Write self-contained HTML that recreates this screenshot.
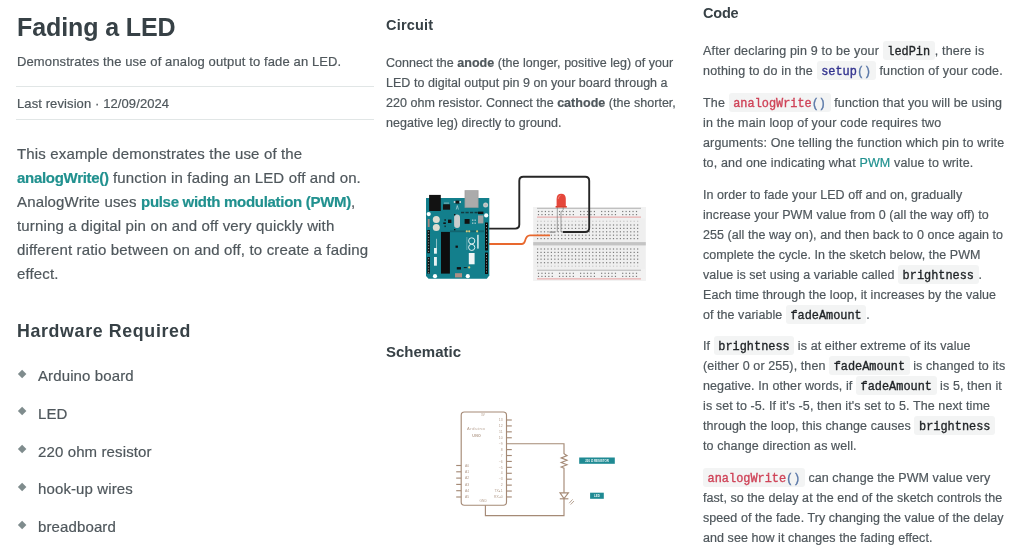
<!DOCTYPE html>
<html><head><meta charset="utf-8"><title>Fading a LED</title>
<style>
html,body{margin:0;padding:0;background:#fff;}
body{width:1024px;height:560px;position:relative;overflow:hidden;font-family:"Liberation Sans",sans-serif;}
.t{position:absolute;white-space:nowrap;will-change:transform;-webkit-text-stroke:0.2px currentColor;}
.t b{font-weight:bold;}
.lk{color:#21918f;letter-spacing:-0.3px;}
.tl{color:#21918f;}
.hr{position:absolute;left:16px;width:358px;height:1px;background:#e1e6e6;}
.dm{position:absolute;width:6.3px;height:6.3px;background:#7f8c8d;transform:rotate(45deg);}
code{font-family:"Liberation Mono",monospace;font-size:11.9px;line-height:1;letter-spacing:0;background:#f3f4f4;color:#1f2326;
border-radius:3px;padding:4.1px 4.6px 1.2px 4.6px;-webkit-text-stroke:0.35px currentColor;}
.nv{color:#33338f;}
.pr{color:#5a78a8;}
.rd{color:#cf4358;}
svg{position:absolute;}
</style></head><body>
<div class="t" style="left:16.5px;top:11.04px;font-size:25px;line-height:32px;letter-spacing:-0.1px;color:#374146;font-weight:bold;-webkit-text-stroke:0;">Fading a LED</div>
<div class="t" style="left:16.5px;top:51.70px;font-size:13px;line-height:20px;letter-spacing:0.12px;color:#4f575c;font-weight:normal;">Demonstrates the use of analog output to fade an LED.</div>
<div class="hr" style="top:86px"></div>
<div class="t" style="left:16.5px;top:93.50px;font-size:13px;line-height:20px;letter-spacing:0.1px;color:#4f575c;font-weight:normal;">Last revision &middot; 12/09/2024</div>
<div class="hr" style="top:119px"></div>
<div class="t" style="left:16.5px;top:141.50px;font-size:15px;line-height:24px;letter-spacing:0.15px;color:#4f575c;font-weight:normal;">This example demonstrates the use of the<br><b class="lk">analogWrite()</b> function in fading an LED off and on.<br>AnalogWrite uses <b class="lk">pulse width modulation (PWM)</b>,<br>turning a digital pin on and off very quickly with<br>different ratio between on and off, to create a fading<br>effect.</div>
<div class="t" style="left:16.5px;top:319.43px;font-size:17.8px;line-height:24px;letter-spacing:0.65px;color:#374146;font-weight:bold;-webkit-text-stroke:0;">Hardware Required</div>
<div class="t" style="left:38px;top:366.00px;font-size:15px;line-height:20px;letter-spacing:0.12px;color:#4f575c;font-weight:normal;">Arduino board</div>
<div class="dm" style="left:18.5px;top:370.60px"></div>
<div class="t" style="left:38px;top:403.80px;font-size:15px;line-height:20px;letter-spacing:0.12px;color:#4f575c;font-weight:normal;">LED</div>
<div class="dm" style="left:18.5px;top:408.40px"></div>
<div class="t" style="left:38px;top:441.60px;font-size:15px;line-height:20px;letter-spacing:0.12px;color:#4f575c;font-weight:normal;">220 ohm resistor</div>
<div class="dm" style="left:18.5px;top:446.20px"></div>
<div class="t" style="left:38px;top:479.40px;font-size:15px;line-height:20px;letter-spacing:0.12px;color:#4f575c;font-weight:normal;">hook-up wires</div>
<div class="dm" style="left:18.5px;top:484.00px"></div>
<div class="t" style="left:38px;top:517.20px;font-size:15px;line-height:20px;letter-spacing:0.12px;color:#4f575c;font-weight:normal;">breadboard</div>
<div class="dm" style="left:18.5px;top:521.80px"></div>
<div class="t" style="left:386px;top:15.48px;font-size:14.5px;line-height:20px;letter-spacing:0.2px;color:#374146;font-weight:bold;-webkit-text-stroke:0;">Circuit</div>
<div class="t" style="left:386px;top:52.97px;font-size:12.5px;line-height:20px;letter-spacing:0.03px;color:#4f575c;font-weight:normal;">Connect the <b>anode</b> (the longer, positive leg) of your<br>LED to digital output pin 9 on your board through a<br>220 ohm resistor. Connect the <b>cathode</b> (the shorter,<br>negative leg) directly to ground.</div>
<div class="t" style="left:386px;top:342.10px;font-size:15px;line-height:20px;letter-spacing:0.0px;color:#374146;font-weight:bold;-webkit-text-stroke:0;">Schematic</div>
<div class="t" style="left:703.4px;top:3.38px;font-size:14.5px;line-height:20px;letter-spacing:-0.2px;color:#374146;font-weight:bold;-webkit-text-stroke:0;">Code</div>
<div class="t" style="left:703.4px;top:41.17px;font-size:12.5px;line-height:20px;letter-spacing:0.18px;color:#4f575c;font-weight:normal;">After declaring pin 9 to be your <code class="">ledPin</code>, there is<br>nothing to do in the <code class=""><span class=nv>setup</span><span class=pr>()</span></code> function of your code.</div>
<div class="t" style="left:703.4px;top:93.07px;font-size:12.5px;line-height:20px;letter-spacing:0.15px;color:#4f575c;font-weight:normal;">The <code class=""><span class=rd>analogWrite</span><span class=pr>()</span></code> function that you will be using<br>in the main loop of your code requires two<br>arguments: One telling the function which pin to write<br>to, and one indicating what <span class="tl">PWM</span> value to write.</div>
<div class="t" style="left:703.4px;top:184.97px;font-size:12.5px;line-height:20px;letter-spacing:0.05px;color:#4f575c;font-weight:normal;">In order to fade your LED off and on, gradually<br>increase your PWM value from 0 (all the way off) to<br>255 (all the way on), and then back to 0 once again to<br>complete the cycle. In the sketch below, the PWM<br>value is set using a variable called <code class="">brightness</code>.<br>Each time through the loop, it increases by the value<br>of the variable <code class="">fadeAmount</code>.</div>
<div class="t" style="left:703.4px;top:336.27px;font-size:12.5px;line-height:20px;letter-spacing:0.1px;color:#4f575c;font-weight:normal;">If <code class="">brightness</code> is at either extreme of its value<br>(either 0 or 255), then <code class="">fadeAmount</code> is changed to its<br>negative. In other words, if <code class="">fadeAmount</code> is 5, then it<br>is set to -5. If it's -5, then it's set to 5. The next time<br>through the loop, this change causes <code class="">brightness</code><br>to change direction as well.</div>
<div class="t" style="left:703.4px;top:467.77px;font-size:12.5px;line-height:20px;letter-spacing:0.06px;color:#4f575c;font-weight:normal;"><code class=""><span class=rd>analogWrite</span><span class=pr>()</span></code> can change the PWM value very<br>fast, so the delay at the end of the sketch controls the<br>speed of the fade. Try changing the value of the delay<br>and see how it changes the fading effect.</div>

<svg style="left:0;top:0" width="1024" height="560" viewBox="0 0 1024 560">
<rect x="533.2" y="207" width="112.6" height="73.8" fill="#efefef"/>
<rect x="533.2" y="207" width="112.6" height="11.5" fill="#f2f2f2"/>
<rect x="533.2" y="269" width="112.6" height="11.8" fill="#f2f2f2"/>
<line x1="537" x2="641" y1="208.3" y2="208.3" stroke="#9a9a9a" stroke-width="0.7"/>
<line x1="537" x2="641" y1="270.2" y2="270.2" stroke="#9a9a9a" stroke-width="0.7"/>
<line x1="537" x2="641" y1="217.1" y2="217.1" stroke="#e07a7a" stroke-width="0.7"/>
<line x1="537" x2="641" y1="278.9" y2="278.9" stroke="#e07a7a" stroke-width="0.7"/>
<rect x="533.2" y="242.1" width="112.6" height="3.3" fill="#c4c4c4"/>
<g fill="#7c7c7c"><rect x="537.00" y="224.40" width="1.2" height="1.2"/><rect x="540.45" y="224.40" width="1.2" height="1.2"/><rect x="543.90" y="224.40" width="1.2" height="1.2"/><rect x="547.35" y="224.40" width="1.2" height="1.2"/><rect x="550.80" y="224.40" width="1.2" height="1.2"/><rect x="554.25" y="224.40" width="1.2" height="1.2"/><rect x="557.70" y="224.40" width="1.2" height="1.2"/><rect x="561.15" y="224.40" width="1.2" height="1.2"/><rect x="564.60" y="224.40" width="1.2" height="1.2"/><rect x="568.05" y="224.40" width="1.2" height="1.2"/><rect x="571.50" y="224.40" width="1.2" height="1.2"/><rect x="574.95" y="224.40" width="1.2" height="1.2"/><rect x="578.40" y="224.40" width="1.2" height="1.2"/><rect x="581.85" y="224.40" width="1.2" height="1.2"/><rect x="585.30" y="224.40" width="1.2" height="1.2"/><rect x="588.75" y="224.40" width="1.2" height="1.2"/><rect x="592.20" y="224.40" width="1.2" height="1.2"/><rect x="595.65" y="224.40" width="1.2" height="1.2"/><rect x="599.10" y="224.40" width="1.2" height="1.2"/><rect x="602.55" y="224.40" width="1.2" height="1.2"/><rect x="606.00" y="224.40" width="1.2" height="1.2"/><rect x="609.45" y="224.40" width="1.2" height="1.2"/><rect x="612.90" y="224.40" width="1.2" height="1.2"/><rect x="616.35" y="224.40" width="1.2" height="1.2"/><rect x="619.80" y="224.40" width="1.2" height="1.2"/><rect x="623.25" y="224.40" width="1.2" height="1.2"/><rect x="626.70" y="224.40" width="1.2" height="1.2"/><rect x="630.15" y="224.40" width="1.2" height="1.2"/><rect x="633.60" y="224.40" width="1.2" height="1.2"/><rect x="637.05" y="224.40" width="1.2" height="1.2"/><rect x="537.00" y="227.80" width="1.2" height="1.2"/><rect x="540.45" y="227.80" width="1.2" height="1.2"/><rect x="543.90" y="227.80" width="1.2" height="1.2"/><rect x="547.35" y="227.80" width="1.2" height="1.2"/><rect x="550.80" y="227.80" width="1.2" height="1.2"/><rect x="554.25" y="227.80" width="1.2" height="1.2"/><rect x="557.70" y="227.80" width="1.2" height="1.2"/><rect x="561.15" y="227.80" width="1.2" height="1.2"/><rect x="564.60" y="227.80" width="1.2" height="1.2"/><rect x="568.05" y="227.80" width="1.2" height="1.2"/><rect x="571.50" y="227.80" width="1.2" height="1.2"/><rect x="574.95" y="227.80" width="1.2" height="1.2"/><rect x="578.40" y="227.80" width="1.2" height="1.2"/><rect x="581.85" y="227.80" width="1.2" height="1.2"/><rect x="585.30" y="227.80" width="1.2" height="1.2"/><rect x="588.75" y="227.80" width="1.2" height="1.2"/><rect x="592.20" y="227.80" width="1.2" height="1.2"/><rect x="595.65" y="227.80" width="1.2" height="1.2"/><rect x="599.10" y="227.80" width="1.2" height="1.2"/><rect x="602.55" y="227.80" width="1.2" height="1.2"/><rect x="606.00" y="227.80" width="1.2" height="1.2"/><rect x="609.45" y="227.80" width="1.2" height="1.2"/><rect x="612.90" y="227.80" width="1.2" height="1.2"/><rect x="616.35" y="227.80" width="1.2" height="1.2"/><rect x="619.80" y="227.80" width="1.2" height="1.2"/><rect x="623.25" y="227.80" width="1.2" height="1.2"/><rect x="626.70" y="227.80" width="1.2" height="1.2"/><rect x="630.15" y="227.80" width="1.2" height="1.2"/><rect x="633.60" y="227.80" width="1.2" height="1.2"/><rect x="637.05" y="227.80" width="1.2" height="1.2"/><rect x="537.00" y="231.20" width="1.2" height="1.2"/><rect x="540.45" y="231.20" width="1.2" height="1.2"/><rect x="543.90" y="231.20" width="1.2" height="1.2"/><rect x="547.35" y="231.20" width="1.2" height="1.2"/><rect x="550.80" y="231.20" width="1.2" height="1.2"/><rect x="554.25" y="231.20" width="1.2" height="1.2"/><rect x="557.70" y="231.20" width="1.2" height="1.2"/><rect x="561.15" y="231.20" width="1.2" height="1.2"/><rect x="564.60" y="231.20" width="1.2" height="1.2"/><rect x="568.05" y="231.20" width="1.2" height="1.2"/><rect x="571.50" y="231.20" width="1.2" height="1.2"/><rect x="574.95" y="231.20" width="1.2" height="1.2"/><rect x="578.40" y="231.20" width="1.2" height="1.2"/><rect x="581.85" y="231.20" width="1.2" height="1.2"/><rect x="585.30" y="231.20" width="1.2" height="1.2"/><rect x="588.75" y="231.20" width="1.2" height="1.2"/><rect x="592.20" y="231.20" width="1.2" height="1.2"/><rect x="595.65" y="231.20" width="1.2" height="1.2"/><rect x="599.10" y="231.20" width="1.2" height="1.2"/><rect x="602.55" y="231.20" width="1.2" height="1.2"/><rect x="606.00" y="231.20" width="1.2" height="1.2"/><rect x="609.45" y="231.20" width="1.2" height="1.2"/><rect x="612.90" y="231.20" width="1.2" height="1.2"/><rect x="616.35" y="231.20" width="1.2" height="1.2"/><rect x="619.80" y="231.20" width="1.2" height="1.2"/><rect x="623.25" y="231.20" width="1.2" height="1.2"/><rect x="626.70" y="231.20" width="1.2" height="1.2"/><rect x="630.15" y="231.20" width="1.2" height="1.2"/><rect x="633.60" y="231.20" width="1.2" height="1.2"/><rect x="637.05" y="231.20" width="1.2" height="1.2"/><rect x="537.00" y="234.60" width="1.2" height="1.2"/><rect x="540.45" y="234.60" width="1.2" height="1.2"/><rect x="543.90" y="234.60" width="1.2" height="1.2"/><rect x="547.35" y="234.60" width="1.2" height="1.2"/><rect x="550.80" y="234.60" width="1.2" height="1.2"/><rect x="554.25" y="234.60" width="1.2" height="1.2"/><rect x="557.70" y="234.60" width="1.2" height="1.2"/><rect x="561.15" y="234.60" width="1.2" height="1.2"/><rect x="564.60" y="234.60" width="1.2" height="1.2"/><rect x="568.05" y="234.60" width="1.2" height="1.2"/><rect x="571.50" y="234.60" width="1.2" height="1.2"/><rect x="574.95" y="234.60" width="1.2" height="1.2"/><rect x="578.40" y="234.60" width="1.2" height="1.2"/><rect x="581.85" y="234.60" width="1.2" height="1.2"/><rect x="585.30" y="234.60" width="1.2" height="1.2"/><rect x="588.75" y="234.60" width="1.2" height="1.2"/><rect x="592.20" y="234.60" width="1.2" height="1.2"/><rect x="595.65" y="234.60" width="1.2" height="1.2"/><rect x="599.10" y="234.60" width="1.2" height="1.2"/><rect x="602.55" y="234.60" width="1.2" height="1.2"/><rect x="606.00" y="234.60" width="1.2" height="1.2"/><rect x="609.45" y="234.60" width="1.2" height="1.2"/><rect x="612.90" y="234.60" width="1.2" height="1.2"/><rect x="616.35" y="234.60" width="1.2" height="1.2"/><rect x="619.80" y="234.60" width="1.2" height="1.2"/><rect x="623.25" y="234.60" width="1.2" height="1.2"/><rect x="626.70" y="234.60" width="1.2" height="1.2"/><rect x="630.15" y="234.60" width="1.2" height="1.2"/><rect x="633.60" y="234.60" width="1.2" height="1.2"/><rect x="637.05" y="234.60" width="1.2" height="1.2"/><rect x="537.00" y="238.00" width="1.2" height="1.2"/><rect x="540.45" y="238.00" width="1.2" height="1.2"/><rect x="543.90" y="238.00" width="1.2" height="1.2"/><rect x="547.35" y="238.00" width="1.2" height="1.2"/><rect x="550.80" y="238.00" width="1.2" height="1.2"/><rect x="554.25" y="238.00" width="1.2" height="1.2"/><rect x="557.70" y="238.00" width="1.2" height="1.2"/><rect x="561.15" y="238.00" width="1.2" height="1.2"/><rect x="564.60" y="238.00" width="1.2" height="1.2"/><rect x="568.05" y="238.00" width="1.2" height="1.2"/><rect x="571.50" y="238.00" width="1.2" height="1.2"/><rect x="574.95" y="238.00" width="1.2" height="1.2"/><rect x="578.40" y="238.00" width="1.2" height="1.2"/><rect x="581.85" y="238.00" width="1.2" height="1.2"/><rect x="585.30" y="238.00" width="1.2" height="1.2"/><rect x="588.75" y="238.00" width="1.2" height="1.2"/><rect x="592.20" y="238.00" width="1.2" height="1.2"/><rect x="595.65" y="238.00" width="1.2" height="1.2"/><rect x="599.10" y="238.00" width="1.2" height="1.2"/><rect x="602.55" y="238.00" width="1.2" height="1.2"/><rect x="606.00" y="238.00" width="1.2" height="1.2"/><rect x="609.45" y="238.00" width="1.2" height="1.2"/><rect x="612.90" y="238.00" width="1.2" height="1.2"/><rect x="616.35" y="238.00" width="1.2" height="1.2"/><rect x="619.80" y="238.00" width="1.2" height="1.2"/><rect x="623.25" y="238.00" width="1.2" height="1.2"/><rect x="626.70" y="238.00" width="1.2" height="1.2"/><rect x="630.15" y="238.00" width="1.2" height="1.2"/><rect x="633.60" y="238.00" width="1.2" height="1.2"/><rect x="637.05" y="238.00" width="1.2" height="1.2"/><rect x="537.00" y="248.40" width="1.2" height="1.2"/><rect x="540.45" y="248.40" width="1.2" height="1.2"/><rect x="543.90" y="248.40" width="1.2" height="1.2"/><rect x="547.35" y="248.40" width="1.2" height="1.2"/><rect x="550.80" y="248.40" width="1.2" height="1.2"/><rect x="554.25" y="248.40" width="1.2" height="1.2"/><rect x="557.70" y="248.40" width="1.2" height="1.2"/><rect x="561.15" y="248.40" width="1.2" height="1.2"/><rect x="564.60" y="248.40" width="1.2" height="1.2"/><rect x="568.05" y="248.40" width="1.2" height="1.2"/><rect x="571.50" y="248.40" width="1.2" height="1.2"/><rect x="574.95" y="248.40" width="1.2" height="1.2"/><rect x="578.40" y="248.40" width="1.2" height="1.2"/><rect x="581.85" y="248.40" width="1.2" height="1.2"/><rect x="585.30" y="248.40" width="1.2" height="1.2"/><rect x="588.75" y="248.40" width="1.2" height="1.2"/><rect x="592.20" y="248.40" width="1.2" height="1.2"/><rect x="595.65" y="248.40" width="1.2" height="1.2"/><rect x="599.10" y="248.40" width="1.2" height="1.2"/><rect x="602.55" y="248.40" width="1.2" height="1.2"/><rect x="606.00" y="248.40" width="1.2" height="1.2"/><rect x="609.45" y="248.40" width="1.2" height="1.2"/><rect x="612.90" y="248.40" width="1.2" height="1.2"/><rect x="616.35" y="248.40" width="1.2" height="1.2"/><rect x="619.80" y="248.40" width="1.2" height="1.2"/><rect x="623.25" y="248.40" width="1.2" height="1.2"/><rect x="626.70" y="248.40" width="1.2" height="1.2"/><rect x="630.15" y="248.40" width="1.2" height="1.2"/><rect x="633.60" y="248.40" width="1.2" height="1.2"/><rect x="637.05" y="248.40" width="1.2" height="1.2"/><rect x="537.00" y="251.80" width="1.2" height="1.2"/><rect x="540.45" y="251.80" width="1.2" height="1.2"/><rect x="543.90" y="251.80" width="1.2" height="1.2"/><rect x="547.35" y="251.80" width="1.2" height="1.2"/><rect x="550.80" y="251.80" width="1.2" height="1.2"/><rect x="554.25" y="251.80" width="1.2" height="1.2"/><rect x="557.70" y="251.80" width="1.2" height="1.2"/><rect x="561.15" y="251.80" width="1.2" height="1.2"/><rect x="564.60" y="251.80" width="1.2" height="1.2"/><rect x="568.05" y="251.80" width="1.2" height="1.2"/><rect x="571.50" y="251.80" width="1.2" height="1.2"/><rect x="574.95" y="251.80" width="1.2" height="1.2"/><rect x="578.40" y="251.80" width="1.2" height="1.2"/><rect x="581.85" y="251.80" width="1.2" height="1.2"/><rect x="585.30" y="251.80" width="1.2" height="1.2"/><rect x="588.75" y="251.80" width="1.2" height="1.2"/><rect x="592.20" y="251.80" width="1.2" height="1.2"/><rect x="595.65" y="251.80" width="1.2" height="1.2"/><rect x="599.10" y="251.80" width="1.2" height="1.2"/><rect x="602.55" y="251.80" width="1.2" height="1.2"/><rect x="606.00" y="251.80" width="1.2" height="1.2"/><rect x="609.45" y="251.80" width="1.2" height="1.2"/><rect x="612.90" y="251.80" width="1.2" height="1.2"/><rect x="616.35" y="251.80" width="1.2" height="1.2"/><rect x="619.80" y="251.80" width="1.2" height="1.2"/><rect x="623.25" y="251.80" width="1.2" height="1.2"/><rect x="626.70" y="251.80" width="1.2" height="1.2"/><rect x="630.15" y="251.80" width="1.2" height="1.2"/><rect x="633.60" y="251.80" width="1.2" height="1.2"/><rect x="637.05" y="251.80" width="1.2" height="1.2"/><rect x="537.00" y="255.20" width="1.2" height="1.2"/><rect x="540.45" y="255.20" width="1.2" height="1.2"/><rect x="543.90" y="255.20" width="1.2" height="1.2"/><rect x="547.35" y="255.20" width="1.2" height="1.2"/><rect x="550.80" y="255.20" width="1.2" height="1.2"/><rect x="554.25" y="255.20" width="1.2" height="1.2"/><rect x="557.70" y="255.20" width="1.2" height="1.2"/><rect x="561.15" y="255.20" width="1.2" height="1.2"/><rect x="564.60" y="255.20" width="1.2" height="1.2"/><rect x="568.05" y="255.20" width="1.2" height="1.2"/><rect x="571.50" y="255.20" width="1.2" height="1.2"/><rect x="574.95" y="255.20" width="1.2" height="1.2"/><rect x="578.40" y="255.20" width="1.2" height="1.2"/><rect x="581.85" y="255.20" width="1.2" height="1.2"/><rect x="585.30" y="255.20" width="1.2" height="1.2"/><rect x="588.75" y="255.20" width="1.2" height="1.2"/><rect x="592.20" y="255.20" width="1.2" height="1.2"/><rect x="595.65" y="255.20" width="1.2" height="1.2"/><rect x="599.10" y="255.20" width="1.2" height="1.2"/><rect x="602.55" y="255.20" width="1.2" height="1.2"/><rect x="606.00" y="255.20" width="1.2" height="1.2"/><rect x="609.45" y="255.20" width="1.2" height="1.2"/><rect x="612.90" y="255.20" width="1.2" height="1.2"/><rect x="616.35" y="255.20" width="1.2" height="1.2"/><rect x="619.80" y="255.20" width="1.2" height="1.2"/><rect x="623.25" y="255.20" width="1.2" height="1.2"/><rect x="626.70" y="255.20" width="1.2" height="1.2"/><rect x="630.15" y="255.20" width="1.2" height="1.2"/><rect x="633.60" y="255.20" width="1.2" height="1.2"/><rect x="637.05" y="255.20" width="1.2" height="1.2"/><rect x="537.00" y="258.60" width="1.2" height="1.2"/><rect x="540.45" y="258.60" width="1.2" height="1.2"/><rect x="543.90" y="258.60" width="1.2" height="1.2"/><rect x="547.35" y="258.60" width="1.2" height="1.2"/><rect x="550.80" y="258.60" width="1.2" height="1.2"/><rect x="554.25" y="258.60" width="1.2" height="1.2"/><rect x="557.70" y="258.60" width="1.2" height="1.2"/><rect x="561.15" y="258.60" width="1.2" height="1.2"/><rect x="564.60" y="258.60" width="1.2" height="1.2"/><rect x="568.05" y="258.60" width="1.2" height="1.2"/><rect x="571.50" y="258.60" width="1.2" height="1.2"/><rect x="574.95" y="258.60" width="1.2" height="1.2"/><rect x="578.40" y="258.60" width="1.2" height="1.2"/><rect x="581.85" y="258.60" width="1.2" height="1.2"/><rect x="585.30" y="258.60" width="1.2" height="1.2"/><rect x="588.75" y="258.60" width="1.2" height="1.2"/><rect x="592.20" y="258.60" width="1.2" height="1.2"/><rect x="595.65" y="258.60" width="1.2" height="1.2"/><rect x="599.10" y="258.60" width="1.2" height="1.2"/><rect x="602.55" y="258.60" width="1.2" height="1.2"/><rect x="606.00" y="258.60" width="1.2" height="1.2"/><rect x="609.45" y="258.60" width="1.2" height="1.2"/><rect x="612.90" y="258.60" width="1.2" height="1.2"/><rect x="616.35" y="258.60" width="1.2" height="1.2"/><rect x="619.80" y="258.60" width="1.2" height="1.2"/><rect x="623.25" y="258.60" width="1.2" height="1.2"/><rect x="626.70" y="258.60" width="1.2" height="1.2"/><rect x="630.15" y="258.60" width="1.2" height="1.2"/><rect x="633.60" y="258.60" width="1.2" height="1.2"/><rect x="637.05" y="258.60" width="1.2" height="1.2"/><rect x="537.00" y="262.10" width="1.2" height="1.2"/><rect x="540.45" y="262.10" width="1.2" height="1.2"/><rect x="543.90" y="262.10" width="1.2" height="1.2"/><rect x="547.35" y="262.10" width="1.2" height="1.2"/><rect x="550.80" y="262.10" width="1.2" height="1.2"/><rect x="554.25" y="262.10" width="1.2" height="1.2"/><rect x="557.70" y="262.10" width="1.2" height="1.2"/><rect x="561.15" y="262.10" width="1.2" height="1.2"/><rect x="564.60" y="262.10" width="1.2" height="1.2"/><rect x="568.05" y="262.10" width="1.2" height="1.2"/><rect x="571.50" y="262.10" width="1.2" height="1.2"/><rect x="574.95" y="262.10" width="1.2" height="1.2"/><rect x="578.40" y="262.10" width="1.2" height="1.2"/><rect x="581.85" y="262.10" width="1.2" height="1.2"/><rect x="585.30" y="262.10" width="1.2" height="1.2"/><rect x="588.75" y="262.10" width="1.2" height="1.2"/><rect x="592.20" y="262.10" width="1.2" height="1.2"/><rect x="595.65" y="262.10" width="1.2" height="1.2"/><rect x="599.10" y="262.10" width="1.2" height="1.2"/><rect x="602.55" y="262.10" width="1.2" height="1.2"/><rect x="606.00" y="262.10" width="1.2" height="1.2"/><rect x="609.45" y="262.10" width="1.2" height="1.2"/><rect x="612.90" y="262.10" width="1.2" height="1.2"/><rect x="616.35" y="262.10" width="1.2" height="1.2"/><rect x="619.80" y="262.10" width="1.2" height="1.2"/><rect x="623.25" y="262.10" width="1.2" height="1.2"/><rect x="626.70" y="262.10" width="1.2" height="1.2"/><rect x="630.15" y="262.10" width="1.2" height="1.2"/><rect x="633.60" y="262.10" width="1.2" height="1.2"/><rect x="637.05" y="262.10" width="1.2" height="1.2"/><rect x="537.90" y="210.90" width="1.2" height="1.2"/><rect x="541.35" y="210.90" width="1.2" height="1.2"/><rect x="544.80" y="210.90" width="1.2" height="1.2"/><rect x="548.25" y="210.90" width="1.2" height="1.2"/><rect x="551.70" y="210.90" width="1.2" height="1.2"/><rect x="558.95" y="210.90" width="1.2" height="1.2"/><rect x="562.40" y="210.90" width="1.2" height="1.2"/><rect x="565.85" y="210.90" width="1.2" height="1.2"/><rect x="569.30" y="210.90" width="1.2" height="1.2"/><rect x="572.75" y="210.90" width="1.2" height="1.2"/><rect x="580.00" y="210.90" width="1.2" height="1.2"/><rect x="583.45" y="210.90" width="1.2" height="1.2"/><rect x="586.90" y="210.90" width="1.2" height="1.2"/><rect x="590.35" y="210.90" width="1.2" height="1.2"/><rect x="593.80" y="210.90" width="1.2" height="1.2"/><rect x="601.05" y="210.90" width="1.2" height="1.2"/><rect x="604.50" y="210.90" width="1.2" height="1.2"/><rect x="607.95" y="210.90" width="1.2" height="1.2"/><rect x="611.40" y="210.90" width="1.2" height="1.2"/><rect x="614.85" y="210.90" width="1.2" height="1.2"/><rect x="622.10" y="210.90" width="1.2" height="1.2"/><rect x="625.55" y="210.90" width="1.2" height="1.2"/><rect x="629.00" y="210.90" width="1.2" height="1.2"/><rect x="632.45" y="210.90" width="1.2" height="1.2"/><rect x="635.90" y="210.90" width="1.2" height="1.2"/><rect x="537.90" y="214.00" width="1.2" height="1.2"/><rect x="541.35" y="214.00" width="1.2" height="1.2"/><rect x="544.80" y="214.00" width="1.2" height="1.2"/><rect x="548.25" y="214.00" width="1.2" height="1.2"/><rect x="551.70" y="214.00" width="1.2" height="1.2"/><rect x="558.95" y="214.00" width="1.2" height="1.2"/><rect x="562.40" y="214.00" width="1.2" height="1.2"/><rect x="565.85" y="214.00" width="1.2" height="1.2"/><rect x="569.30" y="214.00" width="1.2" height="1.2"/><rect x="572.75" y="214.00" width="1.2" height="1.2"/><rect x="580.00" y="214.00" width="1.2" height="1.2"/><rect x="583.45" y="214.00" width="1.2" height="1.2"/><rect x="586.90" y="214.00" width="1.2" height="1.2"/><rect x="590.35" y="214.00" width="1.2" height="1.2"/><rect x="593.80" y="214.00" width="1.2" height="1.2"/><rect x="601.05" y="214.00" width="1.2" height="1.2"/><rect x="604.50" y="214.00" width="1.2" height="1.2"/><rect x="607.95" y="214.00" width="1.2" height="1.2"/><rect x="611.40" y="214.00" width="1.2" height="1.2"/><rect x="614.85" y="214.00" width="1.2" height="1.2"/><rect x="622.10" y="214.00" width="1.2" height="1.2"/><rect x="625.55" y="214.00" width="1.2" height="1.2"/><rect x="629.00" y="214.00" width="1.2" height="1.2"/><rect x="632.45" y="214.00" width="1.2" height="1.2"/><rect x="635.90" y="214.00" width="1.2" height="1.2"/><rect x="537.90" y="272.70" width="1.2" height="1.2"/><rect x="541.35" y="272.70" width="1.2" height="1.2"/><rect x="544.80" y="272.70" width="1.2" height="1.2"/><rect x="548.25" y="272.70" width="1.2" height="1.2"/><rect x="551.70" y="272.70" width="1.2" height="1.2"/><rect x="558.95" y="272.70" width="1.2" height="1.2"/><rect x="562.40" y="272.70" width="1.2" height="1.2"/><rect x="565.85" y="272.70" width="1.2" height="1.2"/><rect x="569.30" y="272.70" width="1.2" height="1.2"/><rect x="572.75" y="272.70" width="1.2" height="1.2"/><rect x="580.00" y="272.70" width="1.2" height="1.2"/><rect x="583.45" y="272.70" width="1.2" height="1.2"/><rect x="586.90" y="272.70" width="1.2" height="1.2"/><rect x="590.35" y="272.70" width="1.2" height="1.2"/><rect x="593.80" y="272.70" width="1.2" height="1.2"/><rect x="601.05" y="272.70" width="1.2" height="1.2"/><rect x="604.50" y="272.70" width="1.2" height="1.2"/><rect x="607.95" y="272.70" width="1.2" height="1.2"/><rect x="611.40" y="272.70" width="1.2" height="1.2"/><rect x="614.85" y="272.70" width="1.2" height="1.2"/><rect x="622.10" y="272.70" width="1.2" height="1.2"/><rect x="625.55" y="272.70" width="1.2" height="1.2"/><rect x="629.00" y="272.70" width="1.2" height="1.2"/><rect x="632.45" y="272.70" width="1.2" height="1.2"/><rect x="635.90" y="272.70" width="1.2" height="1.2"/><rect x="537.90" y="275.80" width="1.2" height="1.2"/><rect x="541.35" y="275.80" width="1.2" height="1.2"/><rect x="544.80" y="275.80" width="1.2" height="1.2"/><rect x="548.25" y="275.80" width="1.2" height="1.2"/><rect x="551.70" y="275.80" width="1.2" height="1.2"/><rect x="558.95" y="275.80" width="1.2" height="1.2"/><rect x="562.40" y="275.80" width="1.2" height="1.2"/><rect x="565.85" y="275.80" width="1.2" height="1.2"/><rect x="569.30" y="275.80" width="1.2" height="1.2"/><rect x="572.75" y="275.80" width="1.2" height="1.2"/><rect x="580.00" y="275.80" width="1.2" height="1.2"/><rect x="583.45" y="275.80" width="1.2" height="1.2"/><rect x="586.90" y="275.80" width="1.2" height="1.2"/><rect x="590.35" y="275.80" width="1.2" height="1.2"/><rect x="593.80" y="275.80" width="1.2" height="1.2"/><rect x="601.05" y="275.80" width="1.2" height="1.2"/><rect x="604.50" y="275.80" width="1.2" height="1.2"/><rect x="607.95" y="275.80" width="1.2" height="1.2"/><rect x="611.40" y="275.80" width="1.2" height="1.2"/><rect x="614.85" y="275.80" width="1.2" height="1.2"/><rect x="622.10" y="275.80" width="1.2" height="1.2"/><rect x="625.55" y="275.80" width="1.2" height="1.2"/><rect x="629.00" y="275.80" width="1.2" height="1.2"/><rect x="632.45" y="275.80" width="1.2" height="1.2"/><rect x="635.90" y="275.80" width="1.2" height="1.2"/></g>
<g fill="#c8c8c8"><rect x="537.00" y="220.70" width="1.2" height="1.2"/><rect x="540.45" y="220.70" width="1.2" height="1.2"/><rect x="543.90" y="220.70" width="1.2" height="1.2"/><rect x="547.35" y="220.70" width="1.2" height="1.2"/><rect x="550.80" y="220.70" width="1.2" height="1.2"/><rect x="554.25" y="220.70" width="1.2" height="1.2"/><rect x="557.70" y="220.70" width="1.2" height="1.2"/><rect x="561.15" y="220.70" width="1.2" height="1.2"/><rect x="564.60" y="220.70" width="1.2" height="1.2"/><rect x="568.05" y="220.70" width="1.2" height="1.2"/><rect x="571.50" y="220.70" width="1.2" height="1.2"/><rect x="574.95" y="220.70" width="1.2" height="1.2"/><rect x="578.40" y="220.70" width="1.2" height="1.2"/><rect x="581.85" y="220.70" width="1.2" height="1.2"/><rect x="585.30" y="220.70" width="1.2" height="1.2"/><rect x="588.75" y="220.70" width="1.2" height="1.2"/><rect x="592.20" y="220.70" width="1.2" height="1.2"/><rect x="595.65" y="220.70" width="1.2" height="1.2"/><rect x="599.10" y="220.70" width="1.2" height="1.2"/><rect x="602.55" y="220.70" width="1.2" height="1.2"/><rect x="606.00" y="220.70" width="1.2" height="1.2"/><rect x="609.45" y="220.70" width="1.2" height="1.2"/><rect x="612.90" y="220.70" width="1.2" height="1.2"/><rect x="616.35" y="220.70" width="1.2" height="1.2"/><rect x="619.80" y="220.70" width="1.2" height="1.2"/><rect x="623.25" y="220.70" width="1.2" height="1.2"/><rect x="626.70" y="220.70" width="1.2" height="1.2"/><rect x="630.15" y="220.70" width="1.2" height="1.2"/><rect x="633.60" y="220.70" width="1.2" height="1.2"/><rect x="637.05" y="220.70" width="1.2" height="1.2"/><rect x="537.00" y="265.60" width="1.2" height="1.2"/><rect x="540.45" y="265.60" width="1.2" height="1.2"/><rect x="543.90" y="265.60" width="1.2" height="1.2"/><rect x="547.35" y="265.60" width="1.2" height="1.2"/><rect x="550.80" y="265.60" width="1.2" height="1.2"/><rect x="554.25" y="265.60" width="1.2" height="1.2"/><rect x="557.70" y="265.60" width="1.2" height="1.2"/><rect x="561.15" y="265.60" width="1.2" height="1.2"/><rect x="564.60" y="265.60" width="1.2" height="1.2"/><rect x="568.05" y="265.60" width="1.2" height="1.2"/><rect x="571.50" y="265.60" width="1.2" height="1.2"/><rect x="574.95" y="265.60" width="1.2" height="1.2"/><rect x="578.40" y="265.60" width="1.2" height="1.2"/><rect x="581.85" y="265.60" width="1.2" height="1.2"/><rect x="585.30" y="265.60" width="1.2" height="1.2"/><rect x="588.75" y="265.60" width="1.2" height="1.2"/><rect x="592.20" y="265.60" width="1.2" height="1.2"/><rect x="595.65" y="265.60" width="1.2" height="1.2"/><rect x="599.10" y="265.60" width="1.2" height="1.2"/><rect x="602.55" y="265.60" width="1.2" height="1.2"/><rect x="606.00" y="265.60" width="1.2" height="1.2"/><rect x="609.45" y="265.60" width="1.2" height="1.2"/><rect x="612.90" y="265.60" width="1.2" height="1.2"/><rect x="616.35" y="265.60" width="1.2" height="1.2"/><rect x="619.80" y="265.60" width="1.2" height="1.2"/><rect x="623.25" y="265.60" width="1.2" height="1.2"/><rect x="626.70" y="265.60" width="1.2" height="1.2"/><rect x="630.15" y="265.60" width="1.2" height="1.2"/><rect x="633.60" y="265.60" width="1.2" height="1.2"/><rect x="637.05" y="265.60" width="1.2" height="1.2"/></g>
<line x1="557.3" y1="207" x2="557.3" y2="232" stroke="#7a7a7a" stroke-width="0.7"/>
<rect x="549.5" y="231.3" width="5.8" height="1.6" fill="#9a9a9a"/>
<path d="M563.2 207 L563.2 209.5 L561 212 L561 232" fill="none" stroke="#7a7a7a" stroke-width="0.7"/>
<path d="M556.6 207 L556.6 199 Q556.6 193.8 561.2 193.8 Q565.8 193.8 565.8 199 L565.8 207 Z" fill="#e5473b"/>
<rect x="555.6" y="206" width="11.2" height="1.6" fill="#d8402f"/>
<path d="M558.2 199 Q558.4 196 560.6 195.5" fill="none" stroke="#f4a79e" stroke-width="0.6"/>
<path d="M489 228.6 L515.3 228.6 Q519.3 228.6 519.3 224.6 L519.3 180.7 Q519.3 176.7 523.3 176.7 L585.2 176.7 Q589.2 176.7 589.2 180.7 L589.2 228 Q589.2 232 585.2 232 L562.8 232" fill="none" stroke="#262626" stroke-width="1.9"/>
<path d="M489 244 L521.6 244 Q524.2 244 525 241 Q526.4 235.4 530 235.4 L550 235.4" fill="none" stroke="#e8682e" stroke-width="1.8"/>
<path d="M426 198 L489.3 198 L489.3 275.5 L486.8 278.7 L428.5 278.7 L426 276 Z" fill="#137f8c"/>
<rect x="464.6" y="190.2" width="13.9" height="17.6" fill="#9e9e9e"/>
<rect x="465.4" y="191" width="12.3" height="16" fill="#ababab"/>
<rect x="429.1" y="194.9" width="11.7" height="16.1" fill="#121212"/>
<rect x="443" y="204.3" width="7.1" height="5.4" fill="#151515"/>
<rect x="444" y="202.6" width="5" height="1" fill="#b7d3d6" opacity="0.7"/>
<rect x="455.5" y="200.6" width="3.8" height="3" fill="#151515"/>
<rect x="453.8" y="201" width="1.5" height="2" fill="#c7d0d0"/>
<rect x="459.5" y="201" width="1.5" height="2" fill="#c7d0d0"/>
<path d="M456.2 209.5 L457.3 205.5 L458.4 209.5" fill="none" stroke="#cfe3e5" stroke-width="0.6"/>
<circle cx="436.3" cy="219.5" r="3.5" fill="#dcdcd0"/>
<circle cx="436.3" cy="227.5" r="3.5" fill="#dcdcd0"/>
<rect x="427.8" y="219" width="1.8" height="8" fill="#a88a80"/>
<rect x="448" y="219.6" width="3.4" height="3.4" fill="#121212"/>
<rect x="444.6" y="219" width="1" height="2" fill="#121212"/>
<rect x="444.6" y="225.5" width="1" height="1.6" fill="#121212"/>
<rect x="443.3" y="222.4" width="2.5" height="1.6" fill="#121212"/>
<rect x="454.1" y="214.6" width="5.9" height="13.4" rx="2.9" fill="#c9cdcd"/>
<rect x="464.6" y="219" width="5" height="4.8" fill="#121212"/>
<g fill="#bfd6d8" opacity="0.8"><rect x="472" y="219.5" width="1.4" height="1.4"/><rect x="474.5" y="219.5" width="1.4" height="1.4"/><rect x="472" y="222.5" width="1.4" height="1.4"/><rect x="474.5" y="222.5" width="1.4" height="1.4"/></g>
<circle cx="485.6" cy="205" r="2.5" fill="#c7cccc"/>
<circle cx="485.6" cy="205" r="1.3" fill="#b6bcbc"/>
<rect x="478" y="215.4" width="5.4" height="8" fill="#a0a4a4"/>
<rect x="478" y="211.6" width="5.4" height="2.4" fill="#121212"/>
<rect x="461" y="211.8" width="3.2" height="1.5" fill="#123a40"/>
<rect x="465.5" y="211.8" width="3.2" height="1.5" fill="#123a40"/>
<rect x="470" y="211.8" width="3.2" height="1.5" fill="#123a40"/>
<rect x="474.5" y="211.8" width="3.2" height="1.5" fill="#123a40"/>
<rect x="454" y="214" width="1.4" height="1.4" fill="#121212"/>
<rect x="454" y="229" width="1.4" height="1.4" fill="#121212"/>
<rect x="450" y="230.4" width="34" height="1.8" fill="#125a64" opacity="0.7"/>
<circle cx="466.8" cy="231.3" r="1.1" fill="#d9cc7a"/>
<circle cx="469.2" cy="231.3" r="1.1" fill="#d9cc7a"/>
<circle cx="477.1" cy="231.3" r="1.1" fill="#d9cc7a"/>
<circle cx="428.7" cy="214.1" r="2.1" fill="#ffffff"/>
<circle cx="486.2" cy="215.4" r="2.1" fill="#ffffff"/>
<circle cx="435" cy="276.2" r="2.1" fill="#ffffff"/>
<circle cx="467.8" cy="276.2" r="2.1" fill="#ffffff"/>
<rect x="441" y="231.9" width="8.9" height="41.7" fill="#0d0d0d"/>
<rect x="427.2" y="230" width="2.8" height="23.2" fill="#101818"/>
<rect x="427.2" y="257" width="2.8" height="16.6" fill="#101818"/>
<rect x="485" y="222.5" width="3" height="28" fill="#0d0d0d"/>
<rect x="485" y="252.5" width="3" height="21.5" fill="#0d0d0d"/>
<g fill="#c0c8c8"><rect x="428.2" y="231.3" width="0.9" height="0.9"/><rect x="428.2" y="234.1" width="0.9" height="0.9"/><rect x="428.2" y="236.9" width="0.9" height="0.9"/><rect x="428.2" y="239.7" width="0.9" height="0.9"/><rect x="428.2" y="242.5" width="0.9" height="0.9"/><rect x="428.2" y="245.3" width="0.9" height="0.9"/><rect x="428.2" y="248.1" width="0.9" height="0.9"/><rect x="428.2" y="250.9" width="0.9" height="0.9"/><rect x="428.2" y="258.3" width="0.9" height="0.9"/><rect x="428.2" y="261.1" width="0.9" height="0.9"/><rect x="428.2" y="263.9" width="0.9" height="0.9"/><rect x="428.2" y="266.7" width="0.9" height="0.9"/><rect x="428.2" y="269.5" width="0.9" height="0.9"/><rect x="428.2" y="272.3" width="0.9" height="0.9"/><rect x="486" y="224.0" width="0.9" height="0.9"/><rect x="486" y="227.2" width="0.9" height="0.9"/><rect x="486" y="230.5" width="0.9" height="0.9"/><rect x="486" y="233.8" width="0.9" height="0.9"/><rect x="486" y="237.0" width="0.9" height="0.9"/><rect x="486" y="240.2" width="0.9" height="0.9"/><rect x="486" y="243.5" width="0.9" height="0.9"/><rect x="486" y="246.8" width="0.9" height="0.9"/><rect x="486" y="254.0" width="0.9" height="0.9"/><rect x="486" y="256.9" width="0.9" height="0.9"/><rect x="486" y="259.8" width="0.9" height="0.9"/><rect x="486" y="262.7" width="0.9" height="0.9"/><rect x="486" y="265.6" width="0.9" height="0.9"/><rect x="486" y="268.5" width="0.9" height="0.9"/><rect x="486" y="271.4" width="0.9" height="0.9"/></g>
<g fill="none" stroke="#f4fafa" stroke-width="0.9"><circle cx="471.7" cy="240.9" r="3.1"/><circle cx="471.7" cy="247.4" r="3.1"/></g>
<rect x="468.8" y="253" width="5.8" height="11.3" fill="#eef6f6"/>
<rect x="477" y="234.8" width="1.8" height="13.8" fill="#d7eaec" opacity="0.85"/>
<rect x="466.5" y="237" width="0.8" height="13" fill="#cfe3e5" opacity="0.5"/>
<rect x="434" y="248" width="2.9" height="5.7" fill="#e6f2f2"/>
<rect x="434" y="257" width="2.9" height="8.7" fill="#e6f2f2"/>
<rect x="436" y="238.8" width="0.8" height="9.2" fill="#cfe3e5" opacity="0.8"/>
<rect x="455.5" y="245.6" width="2.4" height="2.2" fill="#121212"/>
<rect x="456.8" y="267.1" width="4.2" height="2.4" fill="#121212"/>
<rect x="463.8" y="267.2" width="3" height="0.9" fill="#121212"/>
<circle cx="469.2" cy="267.4" r="1.1" fill="#d9cc7a"/>
<rect x="455" y="273.2" width="7" height="4.2" fill="#ad8f85"/>
</svg>
<svg style="left:0;top:0" width="1024" height="560" viewBox="0 0 1024 560">
<g fill="none" stroke="#a58a76" stroke-width="1.15">
<rect x="461.2" y="412" width="45.3" height="93.2" rx="3.2"/>
<line x1="506.5" x2="511.8" y1="420.00" y2="420.00"/>
<line x1="506.5" x2="511.8" y1="425.92" y2="425.92"/>
<line x1="506.5" x2="511.8" y1="431.84" y2="431.84"/>
<line x1="506.5" x2="511.8" y1="437.76" y2="437.76"/>
<line x1="506.5" x2="511.8" y1="449.60" y2="449.60"/>
<line x1="506.5" x2="511.8" y1="455.52" y2="455.52"/>
<line x1="506.5" x2="511.8" y1="461.44" y2="461.44"/>
<line x1="506.5" x2="511.8" y1="467.36" y2="467.36"/>
<line x1="506.5" x2="511.8" y1="473.28" y2="473.28"/>
<line x1="506.5" x2="511.8" y1="479.20" y2="479.20"/>
<line x1="506.5" x2="511.8" y1="485.12" y2="485.12"/>
<line x1="506.5" x2="511.8" y1="491.04" y2="491.04"/>
<line x1="506.5" x2="511.8" y1="496.96" y2="496.96"/>
<line x1="456.2" x2="461.2" y1="465.50" y2="465.50"/>
<line x1="456.2" x2="461.2" y1="471.80" y2="471.80"/>
<line x1="456.2" x2="461.2" y1="478.10" y2="478.10"/>
<line x1="456.2" x2="461.2" y1="484.40" y2="484.40"/>
<line x1="456.2" x2="461.2" y1="490.70" y2="490.70"/>
<line x1="456.2" x2="461.2" y1="497.00" y2="497.00"/>
<path d="M506.5 443.7 L564 443.7 L564 454"/>
<path d="M564 453.8 L567 455.6 L561.2 457.9 L567 460.2 L561.2 462.5 L567 464.8 L561.2 467 L564 468.2 L564 492.7"/>
<path d="M560 492.9 L568.4 492.9 L564 498.6 Z"/>
<path d="M559.8 498.8 L568.4 498.8"/>
<path d="M564 498.8 L564 515.6 L485.4 515.6 L485.4 505.2"/>
<path d="M572.6 499.4 L569.2 503.2 M574 501 L570.6 504.6" stroke-width="0.8"/>
</g>
<rect x="579.2" y="457.5" width="35.6" height="6.3" fill="#1f8a93"/>
<rect x="590.1" y="492.7" width="13.7" height="6.1" fill="#1f8a93"/>
<g fill="#e9f5f6" font-family="Liberation Sans" font-weight="bold" font-size="2.9" text-anchor="middle">
<text x="597" y="461.8">220 &#937; RESISTOR</text>
<text x="597" y="496.8">LED</text>
</g>
<g fill="#a58a76" font-family="Liberation Sans" font-size="3.4" text-anchor="end" opacity="0.85">
<text x="502.6" y="421.20">13</text>
<text x="502.6" y="427.12">12</text>
<text x="502.6" y="433.04">11</text>
<text x="502.6" y="438.96">10</text>
<text x="502.6" y="444.88">~9</text>
<text x="502.6" y="450.80">8</text>
<text x="502.6" y="456.72">7</text>
<text x="502.6" y="462.64">~6</text>
<text x="502.6" y="468.56">~5</text>
<text x="502.6" y="474.48">4</text>
<text x="502.6" y="480.40">~3</text>
<text x="502.6" y="486.32">2</text>
<text x="502.6" y="492.24">TX&#9656;1</text>
<text x="502.6" y="498.16">RX&#9666;0</text>
</g>
<g fill="#a58a76" font-family="Liberation Sans" font-size="3.4" opacity="0.85">
<text x="465" y="466.70">A0</text>
<text x="465" y="473.00">A1</text>
<text x="465" y="479.30">A2</text>
<text x="465" y="485.60">A3</text>
<text x="465" y="491.90">A4</text>
<text x="465" y="498.20">A5</text>
<text x="467" y="429.9" font-size="4" letter-spacing="0.65">Arduino</text>
<text x="472.3" y="437.2" font-size="3.6" font-weight="bold" letter-spacing="0.3">UNO</text>
<text x="481" y="416.2" font-size="3">3V</text>
<text x="479.6" y="502.2" font-size="3.2">GND</text>
</g>
</svg>
</body></html>
